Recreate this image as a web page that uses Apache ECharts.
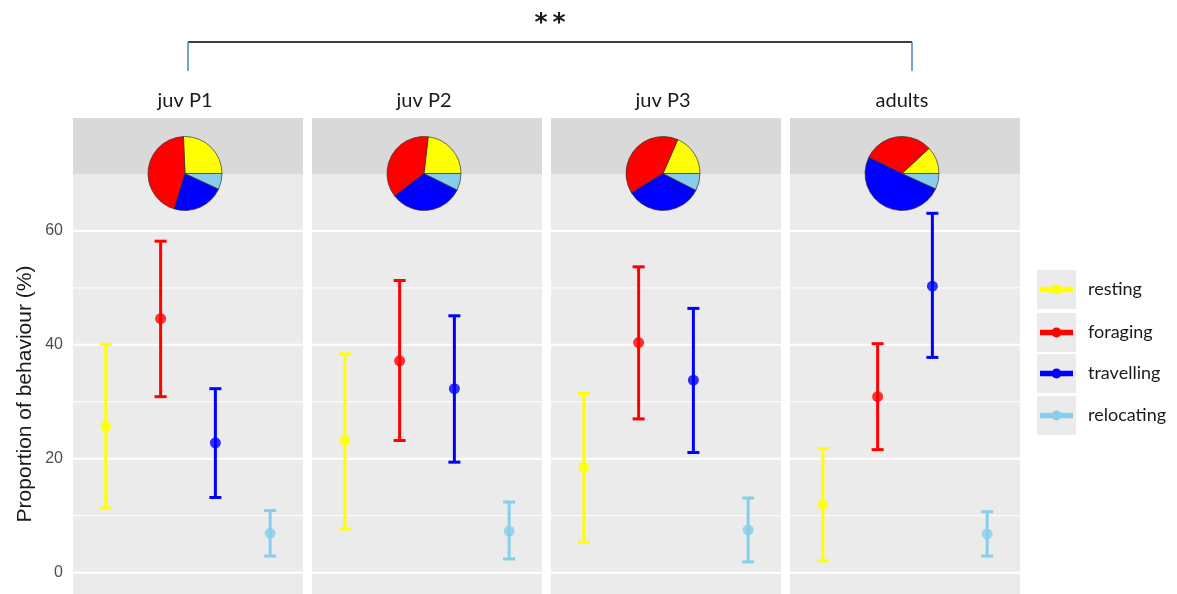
<!DOCTYPE html>
<html>
<head>
<meta charset="utf-8">
<script src="https://cdn.jsdelivr.net/npm/echarts@6/dist/echarts.min.js"></script>
<style>html,body{margin:0;padding:0;background:#fff;}#c{width:1177px;height:594px;}</style>
</head>
<body>
<div id="c"></div>
<script>
// ---- data ----
const categories = ['resting', 'foraging', 'travelling', 'relocating'];
const groups = ['juv P1', 'juv P2', 'juv P3', 'adults'];
const colors = ['#FFFF00', '#FF0000', '#0000FF', '#87CEEB'];

const meanP1 = [25.7, 44.6, 22.8, 6.9];
const lowP1  = [11.3, 30.9, 13.2, 2.9];
const highP1 = [40.1, 58.2, 32.3, 10.9];

const meanP2 = [23.2, 37.2, 32.3, 7.3];
const lowP2  = [7.7, 23.2, 19.4, 2.4];
const highP2 = [38.4, 51.3, 45.1, 12.4];

const meanP3 = [18.5, 40.4, 33.8, 7.5];
const lowP3  = [5.3, 27.0, 21.1, 1.9];
const highP3 = [31.5, 53.7, 46.4, 13.1];

const meanAd = [11.9, 30.9, 50.3, 6.8];
const lowAd  = [2.1, 21.6, 37.8, 2.9];
const highAd = [21.8, 40.2, 63.1, 10.7];

const majorTicks = [0, 20, 40, 60];
const minorTicks = [10, 30, 50];
const significance = '**';
const yTitle = 'Proportion of behaviour (%)';

const means = [meanP1, meanP2, meanP3, meanAd];
const lows = [lowP1, lowP2, lowP3, lowAd];
const highs = [highP1, highP2, highP3, highAd];

// ---- layout ----
const panelLeft0 = 73, panelStep = 239, panelW = 230;
const stripTop = 118, plotTop = 174, plotBottom = 594;
const yMin = -3.75, yMax = 70;

const grids = [], xAxes = [], yAxes = [], series = [], graphics = [];

groups.forEach((g, i) => {
  const left = panelLeft0 + i * panelStep;
  grids.push({left: left, top: plotTop, width: panelW, height: plotBottom - plotTop,
    show: true, backgroundColor: '#EBEBEB', borderWidth: 0});
  xAxes.push({gridIndex: i, type: 'value', min: 0.4, max: 4.6, show: false});
  yAxes.push({gridIndex: i, type: 'value', min: yMin, max: yMax,
    axisLine: {show: false}, axisTick: {show: false}, splitLine: {show: false},
    axisLabel: {show: i === 0, margin: 10, fontSize: 16, color: '#4D4D4D',
      fontFamily: 'Liberation Sans, Arial, sans-serif',
      customValues: majorTicks, showMinLabel: true, showMaxLabel: true},
  });

  // grid lines
  const gl = majorTicks.map(v => [1, v, 1]).concat(minorTicks.map(v => [1, v, 0]));
  series.push({
    type: 'custom', xAxisIndex: i, yAxisIndex: i, silent: true, z: 1,
    data: gl, encode: {x: 0, y: 1},
    renderItem: function (params, api) {
      const v = api.value(1), major = api.value(2);
      const a = api.coord([0.4, v]), b = api.coord([4.6, v]);
      return {type: 'line', shape: {x1: a[0], y1: a[1], x2: b[0], y2: b[1]},
        style: {stroke: '#FFFFFF', lineWidth: major ? 2 : 1}};
    }
  });

  // error bars
  const eb = categories.map((c, k) => [k + 1, lows[i][k], highs[i][k], k]);
  series.push({
    type: 'custom', xAxisIndex: i, yAxisIndex: i, silent: true, z: 3,
    data: eb, encode: {x: 0, y: [1, 2]},
    renderItem: function (params, api) {
      const x = api.value(0);
      const lo = api.coord([x, api.value(1)]);
      const hi = api.coord([x, api.value(2)]);
      const col = colors[api.value(3)];
      const cw = 6;
      const st = {stroke: col, lineWidth: 3};
      return {type: 'group', children: [
        {type: 'line', shape: {x1: lo[0], y1: lo[1], x2: hi[0], y2: hi[1]}, style: st},
        {type: 'line', shape: {x1: lo[0] - cw, y1: lo[1], x2: lo[0] + cw, y2: lo[1]}, style: st},
        {type: 'line', shape: {x1: hi[0] - cw, y1: hi[1], x2: hi[0] + cw, y2: hi[1]}, style: st}
      ]};
    }
  });

  // mean points
  series.push({
    type: 'scatter', xAxisIndex: i, yAxisIndex: i, silent: true, z: 4,
    symbol: 'circle', symbolSize: 11,
    data: categories.map((c, k) => ({value: [k + 1, means[i][k]], itemStyle: {color: colors[k]}}))
  });

  // pie in strip
  series.push({
    type: 'pie', silent: true, z: 5,
    center: [left + 112, 173.5], radius: 37,
    startAngle: 0, clockwise: false,
    label: {show: false}, labelLine: {show: false},
    itemStyle: {borderColor: '#333333', borderWidth: 0.7},
    emphasis: {disabled: true},
    data: categories.map((c, k) => ({name: c, value: means[i][k], itemStyle: {color: colors[k]}}))
  });

  // strip background
  graphics.push({type: 'rect', z: 0, silent: true,
    shape: {x: left, y: stripTop, width: panelW, height: plotTop - stripTop},
    style: {fill: '#D9D9D9'}});
  // panel title
  graphics.push({type: 'text', silent: true, x: left + 112, y: 101,
    style: {text: g, fill: '#1A1A1A', font: '20px Lato, "Open Sans", sans-serif',
      textAlign: 'center', textVerticalAlign: 'middle'}});
});

// y-axis title
graphics.push({type: 'text', silent: true, x: 25, y: 394, rotation: Math.PI / 2,
  style: {text: yTitle, fill: '#1A1A1A', font: '21px "Liberation Sans", Arial, sans-serif',
    textAlign: 'center', textVerticalAlign: 'middle'}});

// significance bracket
const bx1 = panelLeft0 + 115, bx2 = panelLeft0 + 3 * panelStep + 122;
graphics.push({type: 'line', silent: true, shape: {x1: bx1, y1: 42, x2: bx2, y2: 42},
  style: {stroke: '#3F3F3F', lineWidth: 2}});
graphics.push({type: 'line', silent: true, shape: {x1: bx1, y1: 42, x2: bx1, y2: 71},
  style: {stroke: '#4F81BD', lineWidth: 1.5}});
graphics.push({type: 'line', silent: true, shape: {x1: bx2, y1: 42, x2: bx2, y2: 71},
  style: {stroke: '#4F81BD', lineWidth: 1.5}});
graphics.push({type: 'text', silent: true, x: (bx1 + bx2) / 2, y: 23,
  style: {text: significance.split('').join('\u2009'),
    fill: '#1A1A1A', font: 'bold 25px "DejaVu Sans", sans-serif',
    textAlign: 'center', textVerticalAlign: 'middle'}});

// legend
const keyTops = [270, 313, 354, 396];
categories.forEach((c, k) => {
  const cy = keyTops[k] + 19.5;
  graphics.push({type: 'rect', silent: true, shape: {x: 1037, y: keyTops[k], width: 39, height: 39},
    style: {fill: '#EBEBEB'}});
  graphics.push({type: 'line', silent: true, shape: {x1: 1040, y1: cy, x2: 1073, y2: cy},
    style: {stroke: colors[k], lineWidth: 5.5}});
  graphics.push({type: 'circle', silent: true, shape: {cx: 1056.5, cy: cy, r: 5},
    style: {fill: colors[k]}});
  graphics.push({type: 'text', silent: true, x: 1088, y: cy,
    style: {text: c, fill: '#1A1A1A', font: '18px Lato, "Open Sans", sans-serif',
      textAlign: 'left', textVerticalAlign: 'middle'}});
});

const chart = echarts.init(document.getElementById('c'), null, {renderer: 'canvas'});
chart.setOption({
  animation: false,
  backgroundColor: '#FFFFFF',
  grid: grids, xAxis: xAxes, yAxis: yAxes, series: series,
  graphic: {elements: graphics}
});
</script>
</body>
</html>
